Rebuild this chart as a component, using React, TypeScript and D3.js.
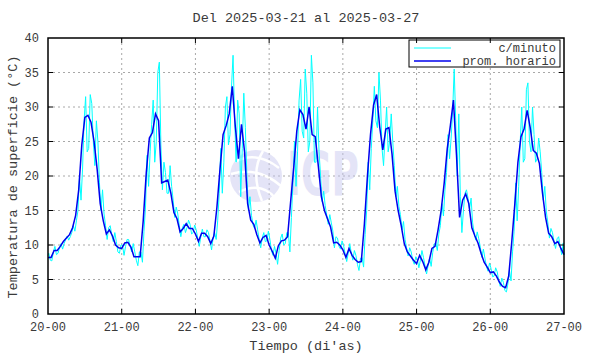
import React from "react";
import * as d3 from "d3";

// Hourly mean ("prom. horario"), index 0 = 20-00 00h
const hourly20 = [8.2, 8.2, 9.2, 9.2, 9.8, 10.5, 11.0, 11.5, 12.5, 14.3, 18.0, 24.5, 28.5, 28.8, 27.8, 25.0, 21.0, 16.0, 13.5, 11.6, 12.2, 11.3, 10.0, 9.6];
const hourly21 = [9.5, 10.3, 10.4, 9.7, 8.3, 8.3, 8.3, 13.5, 20.5, 25.5, 26.3, 29.0, 28.0, 19.0, 19.2, 19.4, 17.5, 14.7, 13.8, 11.9, 12.4, 13.1, 12.4, 12.4];
const hourly22 = [11.6, 10.5, 11.7, 11.7, 11.2, 10.2, 11.3, 15.5, 21.0, 26.0, 27.3, 29.0, 33.0, 27.1, 22.5, 27.5, 23.5, 16.0, 13.6, 13.0, 11.5, 10.3, 11.1, 11.4];
const hourly23 = [10.0, 9.1, 8.1, 9.9, 10.6, 10.7, 11.2, 16.3, 21.2, 26.5, 29.6, 28.9, 26.8, 30.0, 26.0, 25.7, 21.5, 17.0, 15.0, 13.8, 12.6, 10.3, 10.4, 10.0];
const hourly24 = [9.3, 8.2, 9.5, 8.5, 7.9, 7.5, 7.6, 13.0, 20.0, 26.0, 30.3, 31.8, 27.1, 23.8, 26.8, 27.0, 23.2, 17.8, 15.0, 12.8, 10.2, 9.0, 8.4, 7.8];
const hourly25 = [7.3, 8.5, 7.6, 6.4, 7.5, 9.5, 9.8, 12.2, 15.0, 19.0, 24.0, 27.3, 31.0, 23.0, 14.0, 16.5, 17.4, 16.0, 12.5, 11.3, 10.3, 8.8, 7.5, 6.8];
const hourly26 = [6.0, 6.1, 5.5, 4.6, 4.0, 3.8, 5.5, 10.5, 16.0, 22.0, 25.7, 26.8, 29.5, 27.0, 23.7, 23.3, 21.8, 17.5, 14.0, 11.7, 11.2, 10.2, 10.5, 9.5];
const hourlyEnd = [8.6];

// Per-minute readings: local high and low within each hour
const minHi20 = [8.8, 9.0, 9.8, 9.6, 10.2, 10.8, 11.3, 11.8, 12.8, 15.0, 20.0, 28.0, 31.5, 31.8, 30.5, 28.0, 25.0, 18.0, 14.5, 12.5, 12.8, 11.8, 10.5, 10.0];
const minLo20 = [7.8, 7.7, 8.6, 8.8, 9.4, 10.2, 10.7, 11.2, 12.0, 13.5, 16.5, 21.0, 23.5, 24.0, 25.0, 21.5, 19.0, 15.0, 12.8, 10.8, 11.5, 10.5, 9.0, 8.8];
const minHi21 = [10.0, 10.8, 10.8, 10.2, 9.0, 9.0, 9.0, 15.5, 23.0, 27.5, 31.0, 35.0, 36.5, 22.0, 20.5, 21.5, 18.5, 15.5, 14.5, 12.5, 13.0, 13.6, 13.0, 12.9];
const minLo21 = [8.5, 9.8, 9.8, 9.0, 7.8, 7.0, 7.5, 12.0, 18.5, 23.5, 22.0, 25.0, 24.5, 18.0, 17.5, 17.5, 16.5, 14.0, 12.8, 11.2, 11.8, 12.5, 11.6, 11.8];
const minHi22 = [12.2, 11.2, 12.3, 12.2, 11.8, 11.0, 11.8, 17.5, 24.0, 30.0, 31.5, 33.0, 37.5, 31.0, 29.0, 32.0, 27.0, 17.0, 14.3, 13.6, 12.2, 11.0, 11.8, 12.0];
const minLo22 = [11.0, 9.8, 11.2, 11.2, 10.6, 9.3, 10.8, 13.5, 17.5, 22.0, 24.5, 26.0, 28.5, 22.0, 17.0, 24.0, 20.0, 15.0, 12.9, 12.4, 10.8, 9.6, 10.5, 10.6];
const minHi23 = [10.8, 9.8, 8.8, 11.0, 11.6, 11.8, 11.8, 19.0, 25.0, 31.0, 34.0, 35.5, 32.0, 37.5, 33.5, 30.0, 23.5, 17.8, 15.7, 14.4, 13.2, 11.2, 11.0, 10.6];
const minLo23 = [9.2, 8.5, 7.2, 9.2, 10.0, 10.2, 9.0, 14.0, 18.5, 23.5, 26.5, 25.5, 23.5, 25.0, 22.0, 22.0, 20.0, 16.3, 14.3, 13.0, 12.0, 9.6, 9.8, 9.4];
const minHi24 = [9.9, 8.8, 10.2, 9.2, 8.5, 8.1, 8.2, 15.0, 22.0, 28.0, 33.0, 35.0, 31.0, 26.0, 30.0, 29.0, 25.0, 18.5, 15.6, 13.4, 10.8, 9.6, 9.0, 8.3];
const minLo24 = [8.7, 7.6, 8.8, 7.8, 7.2, 6.3, 6.8, 11.5, 18.0, 24.0, 28.0, 27.0, 24.0, 21.5, 23.5, 25.0, 21.5, 17.0, 14.4, 12.2, 9.6, 8.4, 7.8, 7.2];
const minHi25 = [7.9, 9.2, 8.2, 7.0, 8.1, 10.1, 10.4, 12.8, 16.0, 20.5, 26.0, 29.5, 35.5, 29.0, 17.0, 17.5, 18.0, 16.8, 13.2, 11.9, 10.9, 9.4, 8.1, 7.4];
const minLo25 = [6.7, 7.8, 7.0, 5.8, 6.9, 8.9, 9.2, 11.6, 14.2, 18.0, 22.5, 25.5, 28.0, 20.0, 11.8, 15.0, 16.8, 15.2, 11.8, 10.7, 9.7, 8.2, 6.9, 6.2];
const minHi26 = [6.6, 6.7, 6.1, 5.2, 4.6, 4.4, 6.3, 12.0, 19.0, 25.0, 30.0, 32.5, 33.5, 30.0, 26.0, 25.5, 23.5, 18.5, 14.8, 12.4, 11.8, 10.9, 11.2, 10.3];
const minLo26 = [5.4, 5.5, 4.9, 4.0, 3.4, 3.2, 4.8, 9.0, 13.5, 18.5, 22.0, 22.5, 25.0, 23.5, 22.0, 22.5, 20.5, 16.5, 13.2, 11.0, 10.5, 9.5, 9.8, 8.6];

const xTickLabels = ["20-00", "21-00", "22-00", "23-00", "24-00", "25-00", "26-00", "27-00"];
const yTicks = [0, 5, 10, 15, 20, 25, 30, 35, 40];

const W = 590, H = 354;
const L = 48, R = 564, T = 38, B = 314;
const FONT = "'Liberation Mono', 'DejaVu Sans Mono', monospace";

export default function App() {
  const hourly = [...hourly20, ...hourly21, ...hourly22, ...hourly23, ...hourly24, ...hourly25, ...hourly26, ...hourlyEnd];
  const hi = [...minHi20, ...minHi21, ...minHi22, ...minHi23, ...minHi24, ...minHi25, ...minHi26];
  const lo = [...minLo20, ...minLo21, ...minLo22, ...minLo23, ...minLo24, ...minLo25, ...minLo26];

  const x = d3.scaleLinear().domain([0, 7]).range([L, R]);
  const y = d3.scaleLinear().domain([0, 40]).range([B, T]);

  const hourlyPts: [number, number][] = hourly.map((v, i) => [i / 24, v]);
  const minutePts: [number, number][] = [];
  hi.forEach((h, i) => {
    const a = i % 2 === 0 ? h : lo[i];
    const b = i % 2 === 0 ? lo[i] : h;
    minutePts.push([(i + 0.25) / 24, a]);
    minutePts.push([(i + 0.75) / 24, b]);
  });
  minutePts.unshift([0, hourly[0] + 0.3]);
  minutePts.push([7, hourlyEnd[0]]);

  const line = d3.line<[number, number]>().x(d => x(d[0])).y(d => y(d[1]));

  const gridColor = "#a8a8a8";
  const textColor = "#3a3a3a";

  return (
    <svg width={W} height={H} style={{ position: "absolute", left: 0, top: 0, background: "#fff" }}
      fontFamily={FONT}>
      <rect x={0} y={0} width={W} height={H} fill="#fff" />
      {/* grid */}
      {yTicks.slice(1, -1).map(t => (
        <line key={"gy" + t} x1={L} x2={R} y1={y(t)} y2={y(t)} stroke={gridColor} strokeWidth={1} strokeDasharray="2,3" />
      ))}
      {xTickLabels.slice(1, -1).map((_, i) => (
        <line key={"gx" + i} x1={x(i + 1)} x2={x(i + 1)} y1={T} y2={B} stroke={gridColor} strokeWidth={1} strokeDasharray="2,3" />
      ))}
      {/* watermark */}
      <g opacity={0.45}>
        <circle cx={256} cy={176} r={26} fill="#c4c4ee" />
        <path d="M235,162 Q256,150 279,168" stroke="#fff" strokeWidth={2.5} fill="none" />
        <path d="M231,174 Q258,166 281,186" stroke="#fff" strokeWidth={2.5} fill="none" />
        <path d="M239,192 Q262,181 276,199" stroke="#fff" strokeWidth={2.5} fill="none" />
        <path d="M263,151 Q250,172 262,201" stroke="#fff" strokeWidth={2.5} fill="none" />
        <text x={287} y={195} textLength={72} lengthAdjust="spacingAndGlyphs" fontFamily="'DejaVu Sans', sans-serif" fontWeight="bold" fontSize={60} fill="#c4c4ee">IGP</text>
      </g>
      {/* data */}
      <path d={line(minutePts) || ""} fill="none" stroke="#00ffff" strokeWidth={1} />
      <path d={line(hourlyPts) || ""} fill="none" stroke="#0000ee" strokeWidth={1.5} />
      {/* legend */}
      <rect x={409} y={40} width={151} height={27} fill="#fff" stroke="#000" strokeWidth={1} />
      <line x1={414} x2={451} y1={48} y2={48} stroke="#00ffff" strokeWidth={1} />
      <line x1={414} x2={451} y1={61} y2={61} stroke="#0000ee" strokeWidth={1.5} />
      <text x={556} y={52} textAnchor="end" fontSize={12} fill={textColor}>c/minuto</text>
      <text x={556} y={65} textAnchor="end" fontSize={12} fill={textColor}>prom. horario</text>
      {/* frame */}
      <rect x={L} y={T} width={R - L} height={B - T} fill="none" stroke="#000" strokeWidth={1.5} />
      {/* ticks */}
      {yTicks.slice(1, -1).map(t => (
        <g key={"ty" + t}>
          <line x1={L} x2={L + 5} y1={y(t)} y2={y(t)} stroke="#000" strokeWidth={1} />
          <line x1={R} x2={R - 5} y1={y(t)} y2={y(t)} stroke="#000" strokeWidth={1} />
        </g>
      ))}
      {xTickLabels.slice(1, -1).map((_, i) => (
        <g key={"tx" + i}>
          <line x1={x(i + 1)} x2={x(i + 1)} y1={B} y2={B - 5} stroke="#000" strokeWidth={1} />
          <line x1={x(i + 1)} x2={x(i + 1)} y1={T} y2={T + 5} stroke="#000" strokeWidth={1} />
        </g>
      ))}
      {/* tick labels */}
      {yTicks.map(t => (
        <text key={"ly" + t} x={L - 9} y={y(t) + 4} textAnchor="end" fontSize={12} fill={textColor}>{t}</text>
      ))}
      {xTickLabels.map((lab, i) => (
        <text key={"lx" + i} x={x(i)} y={331} textAnchor="middle" fontSize={12} fill={textColor}>{lab}</text>
      ))}
      {/* titles */}
      <text x={306} y={22} textAnchor="middle" fontSize={13.5} fill={textColor}>Del 2025-03-21 al 2025-03-27</text>
      <text x={306} y={350} textAnchor="middle" fontSize={13.5} fill={textColor}>Tiempo (di'as)</text>
      <text transform="translate(17,177) rotate(-90)" textAnchor="middle" fontSize={13.5} fill={textColor}>Temperatura de superficie (°C)</text>
    </svg>
  );
}
